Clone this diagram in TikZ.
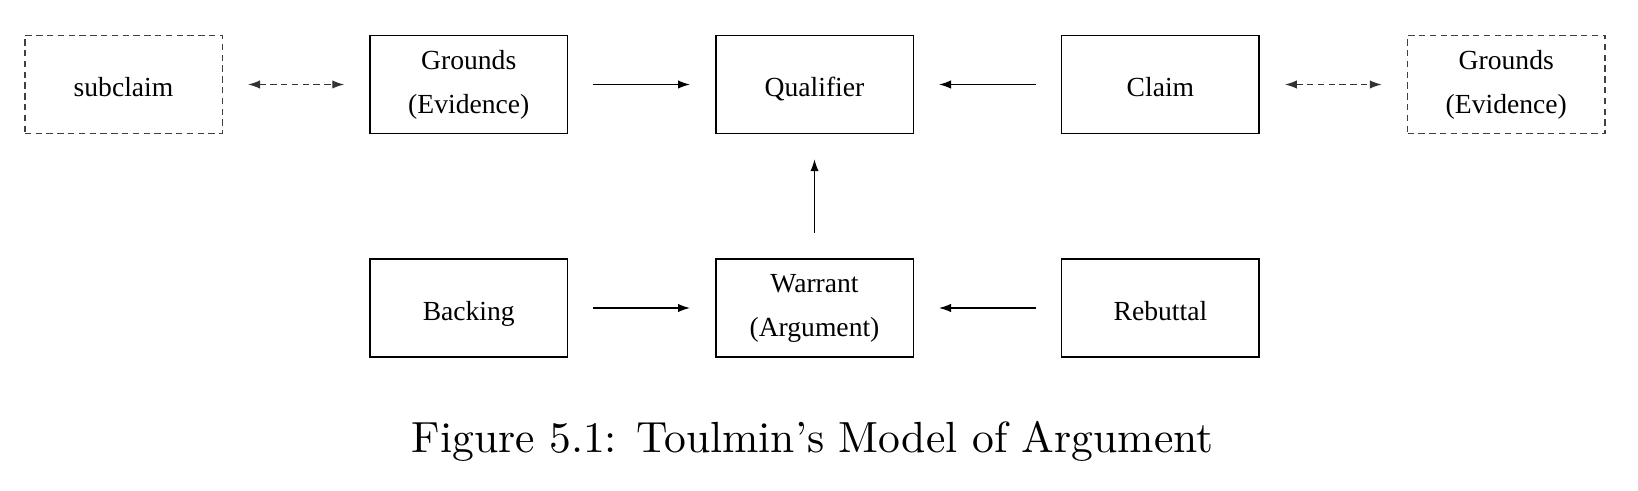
\documentclass[tikz,border=0pt]{standalone}
\usepackage{fontspec}
\newfontfamily\boxfont{Liberation Serif}
\usetikzlibrary{arrows.meta}
\begin{document}
\begin{tikzpicture}[x=0.5pt,y=-0.5pt,
  box/.style={draw, line width=0.75pt, minimum width=98.75pt, minimum height=49pt, inner sep=0pt, align=center, font=\boxfont\fontsize{13.8}{22}\selectfont},
  one/.style={text height=12.4pt, text depth=0pt},
  dbox/.style={box, dash pattern=on 3.2pt off 2.2pt, draw=black!75},
  conn/.style={line width=0.65pt, -{Latex[length=6pt,width=4.2pt]}, shorten <=12.5pt, shorten >=12.5pt},
  dconn/.style={conn, {Latex[length=6pt,width=4.2pt]}-{Latex[length=6pt,width=4.2pt]}, dash pattern=on 3.2pt off 2.2pt, draw=black!80}
]
\useasboundingbox (0,0) rectangle (1638,491);
\node[dbox, one] (sub) at (123.5,84.5) {subclaim};
\node[box] (gr) at (468.75,84.5) {Grounds\\(Evidence)};
\node[box, one] (qu) at (814.5,84.5) {Qualifier};
\node[box, one] (cl) at (1160.4,84.5) {Claim};
\node[dbox] (gr2) at (1506.25,84.5) {Grounds\\(Evidence)};
\node[box, one] (ba) at (468.75,308) {Backing};
\node[box] (wa) at (814.5,308) {Warrant\\(Argument)};
\node[box, one] (re) at (1160.4,308) {Rebuttal};
\draw[dconn] (sub) -- (gr);
\draw[conn] (gr) -- (qu);
\draw[conn] (cl) -- (qu);
\draw[dconn] (cl) -- (gr2);
\draw[conn] (wa) -- (qu);
\draw[conn] (ba) -- (wa);
\draw[conn] (re) -- (wa);
\node[anchor=base, inner sep=0pt, scale=2.18, font=\fontsize{10}{12}\selectfont] (cap) at (812.5,452) {Figure 5.1: Toulmin's Model of Argument};
\end{tikzpicture}
\end{document}
